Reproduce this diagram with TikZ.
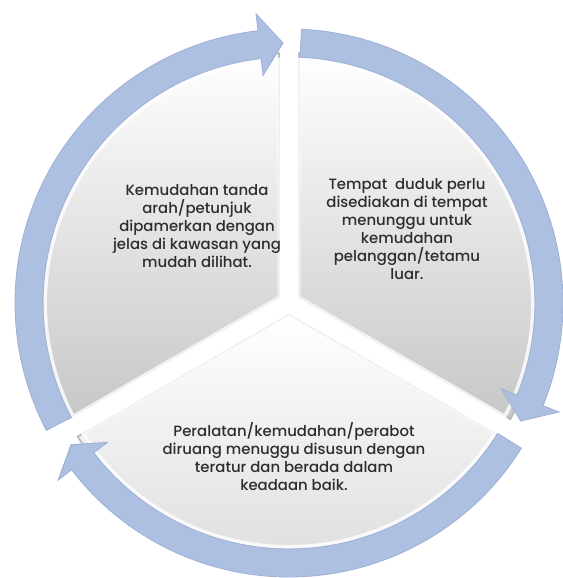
\documentclass[tikz,border=0pt]{standalone}
\usepackage{fontspec}
\setmainfont{Poppins}[UprightFont=* Medium]
\def\leftsegment{(150:11.5) -- (92.3:250) arc[start angle=92.3, end angle=207.7, radius=250] -- cycle}
\def\rightsegment{(30:11.5) -- (-27.7:250) arc[start angle=-27.7, end angle=87.7, radius=250] -- cycle}
\def\bottomsegment{(270:11.5) -- (212.3:250) arc[start angle=212.3, end angle=327.7, radius=250] -- cycle}
% ring arrow: start angle, head back angle, tip angle
\newcommand{\ringarrow}[3]{%
	\filldraw[arrow] (#1:274) arc[start angle=#1, end angle=#2, radius=274]
	-- (#2:291) -- (#3:260) -- (#2:229) -- (#2:246)
	arc[start angle=#2, end angle=#1, radius=246] -- cycle;}
\definecolor{arrow fill}{RGB}{174,192,225}
\definecolor{arrow edge}{RGB}{158,178,215}
\definecolor{segment edge}{RGB}{185,185,185}
\definecolor{label text}{RGB}{45,45,45}
\tikzset{segment/.style={top color=white, bottom color=black!22, draw=segment edge, line width=1.2},
	bevel/.style={draw=white, line width=2.5, opacity=0.8},
	arrow/.style={fill=arrow fill, draw=arrow edge, line width=0.6},
	label/.style={align=center, text=label text, font=\fontsize{10.6}{12.8}\selectfont}}

\begin{document}
\begin{tikzpicture}[x=0.025cm, y=0.025cm]
		\useasboundingbox (-289,-275) rectangle (273,303);
		\shade[segment] \leftsegment;
		\shade[segment] \rightsegment;
		\shade[segment, top color=white, bottom color=black!14] \bottomsegment;
		\begin{scope}[scale=0.975]
			\draw[bevel] \leftsegment;
			\draw[bevel] \rightsegment;
			\draw[bevel] \bottomsegment;
		\end{scope}
		
		\ringarrow{207.7}{96.5}{91.3}
		\ringarrow{87.4}{-22}{-27}
		\ringarrow{-32}{-142.5}{-147}
		
		\node[label] (left) at (-92,77) {Kemudahan tanda\\arah/petunjuk\\dipamerkan dengan\\jelas di kawasan yang\\mudah dilihat.};
		\node[label] (right) at (118,74) {Tempat~ duduk perlu\\disediakan di tempat\\menunggu untuk\\kemudahan\\pelanggan/tetamu\\luar.};
		\node[label] (bottom) at (5,-154) {Peralatan/kemudahan/perabot\\diruang menuggu disusun dengan\\teratur dan berada dalam\\keadaan baik.};
		\end{tikzpicture}
\end{document}
